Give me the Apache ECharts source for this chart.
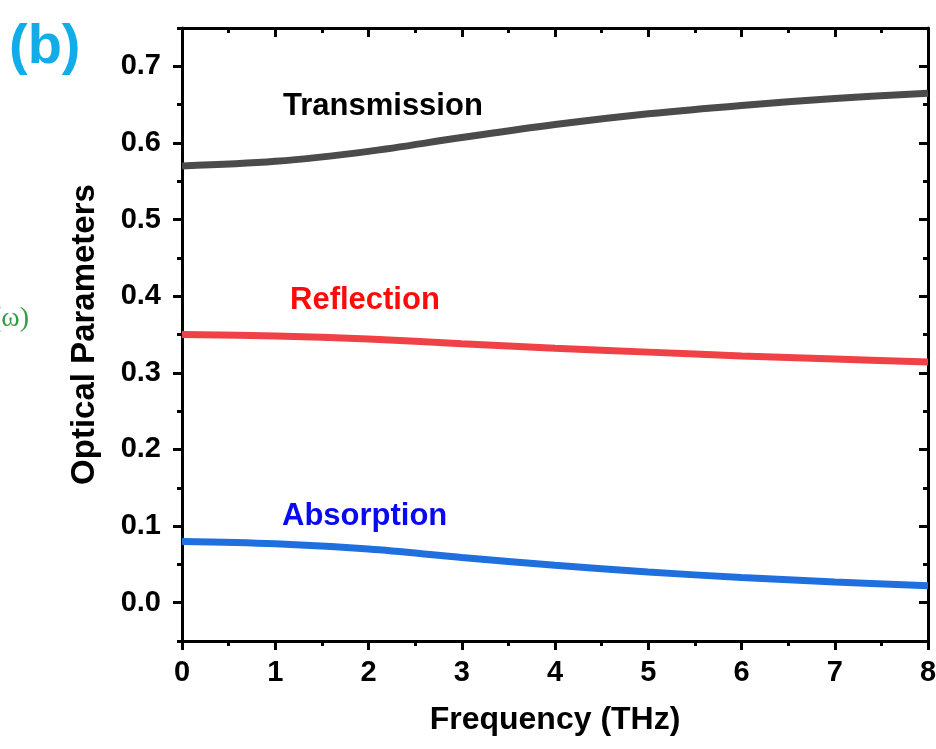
<!DOCTYPE html>
<html>
<head>
<meta charset="utf-8">
<script src="https://cdn.jsdelivr.net/npm/echarts@6/dist/echarts.min.js"></script>
<style>
  html, body { margin: 0; padding: 0; background: #fff; }
  #chart { width: 936px; height: 749px; }
</style>
</head>
<body>
<div id="chart"></div>
<script>
// Frequency samples (THz)
const frequency = [0, 1, 2, 3, 4, 5, 6, 7, 8];
// Optical parameters at each frequency
const transmission = [0.570, 0.576, 0.589, 0.607, 0.624, 0.638, 0.649, 0.658, 0.665];
const reflection   = [0.350, 0.348, 0.344, 0.338, 0.332, 0.327, 0.322, 0.318, 0.314];
const absorption   = [0.080, 0.077, 0.070, 0.059, 0.049, 0.040, 0.033, 0.027, 0.022];
// Axis ranges
const xRange = [0, 8];
const yRange = [-0.05, 0.75];

const FONT = "'Liberation Sans', Arial, sans-serif";
const pairs = vals => frequency.map((f, i) => [f, vals[i]]);

const axisLine = { show: true, onZero: false, lineStyle: { color: '#000', width: 3 } };
const gridBox = { left: 182, right: 8, top: 28, bottom: 108, outerBoundsMode: 'none', containLabel: false };

const chart = echarts.init(document.getElementById('chart'));
chart.setOption({
  animation: false,
  backgroundColor: '#fff',
  grid: [
    Object.assign({}, gridBox),
    Object.assign({}, gridBox)
  ],
  xAxis: [
    {
      type: 'value', gridIndex: 0, position: 'bottom',
      min: xRange[0], max: xRange[1], interval: 1,
      axisLine: axisLine,
      axisTick: { show: true, length: 9, lineStyle: { color: '#000', width: 3 } },
      minorTick: { show: true, splitNumber: 2, length: 5, lineStyle: { color: '#000', width: 3 } },
      splitLine: { show: false },
      axisLabel: { fontFamily: FONT, fontWeight: 'bold', fontSize: 29, color: '#000', margin: 17 },
      name: 'Frequency (THz)', nameLocation: 'middle', nameGap: 63,
      nameTextStyle: { fontFamily: FONT, fontWeight: 'bold', fontSize: 32, color: '#000' }
    },
    {
      type: 'value', gridIndex: 0, position: 'top',
      min: xRange[0], max: xRange[1], interval: 1,
      axisLine: axisLine,
      axisTick: { show: true, inside: true, length: 9, lineStyle: { color: '#000', width: 3 } },
      minorTick: { show: true, splitNumber: 2, length: 5, lineStyle: { color: '#000', width: 3 } },
      splitLine: { show: false },
      axisLabel: { show: false }
    },
    {
      type: 'value', gridIndex: 1, show: false,
      min: xRange[0], max: xRange[1]
    }
  ],
  yAxis: [
    {
      // half-step ticks are the short ones; minor ticks land on the tenths
      type: 'value', gridIndex: 0, position: 'left',
      min: yRange[0], max: yRange[1], interval: 0.1,
      axisLine: axisLine,
      axisTick: { show: true, length: 5, lineStyle: { color: '#000', width: 3 } },
      minorTick: { show: true, splitNumber: 2, length: 9, lineStyle: { color: '#000', width: 3 } },
      splitLine: { show: false },
      axisLabel: { show: false },
      name: 'Optical Parameters', nameLocation: 'middle', nameGap: 81,
      nameTextStyle: { fontFamily: FONT, fontWeight: 'bold', fontSize: 33, color: '#000' }
    },
    {
      type: 'value', gridIndex: 0, position: 'right',
      min: yRange[0], max: yRange[1], interval: 0.1,
      axisLine: axisLine,
      axisTick: { show: true, inside: true, length: 5, lineStyle: { color: '#000', width: 3 } },
      minorTick: { show: true, splitNumber: 2, length: 9, lineStyle: { color: '#000', width: 3 } },
      splitLine: { show: false },
      axisLabel: { show: false }
    },
    {
      // tick labels on the tenths
      type: 'value', gridIndex: 1, position: 'left',
      min: yRange[0], max: yRange[1], interval: 0.05,
      axisLine: { show: false }, axisTick: { show: false }, splitLine: { show: false },
      axisLabel: {
        fontFamily: FONT, fontWeight: 'bold', fontSize: 29, color: '#000', margin: 21,
        formatter: v => {
          const t = v * 10;
          return (v >= -1e-9 && Math.abs(t - Math.round(t)) < 1e-6) ? Math.abs(v).toFixed(1) : '';
        }
      }
    }
  ],
  series: [
    {
      name: 'Transmission', type: 'line', xAxisIndex: 0, yAxisIndex: 0,
      data: pairs(transmission), smooth: 0.35, symbol: 'none',
      lineStyle: { color: '#4b4b4b', width: 7 }
    },
    {
      name: 'Reflection', type: 'line', xAxisIndex: 0, yAxisIndex: 0,
      data: pairs(reflection), smooth: 0.35, symbol: 'none',
      lineStyle: { color: '#ef4146', width: 7 }
    },
    {
      name: 'Absorption', type: 'line', xAxisIndex: 0, yAxisIndex: 0,
      data: pairs(absorption), smooth: 0.35, symbol: 'none',
      lineStyle: { color: '#1f70de', width: 7 }
    }
  ],
  graphic: [
    { type: 'text', left: 9, top: 20,
      style: { text: '(b)', fontFamily: FONT, fontWeight: 'bold', fontSize: 56, fill: '#12ace8' } },
    { type: 'text', left: -8, top: 305,
      style: { text: '(ω)', fontFamily: "'Liberation Serif', 'DejaVu Serif', serif", fontSize: 28, fill: '#2f9e45' } },
    { type: 'text', left: 283, top: 91,
      style: { text: 'Transmission', fontFamily: FONT, fontWeight: 'bold', fontSize: 31, fill: '#000' } },
    { type: 'text', left: 290, top: 285,
      style: { text: 'Reflection', fontFamily: FONT, fontWeight: 'bold', fontSize: 31, fill: '#ff0a0a' } },
    { type: 'text', left: 282, top: 501,
      style: { text: 'Absorption', fontFamily: FONT, fontWeight: 'bold', fontSize: 31, fill: '#0a0af0' } }
  ]
});
</script>
</body>
</html>
